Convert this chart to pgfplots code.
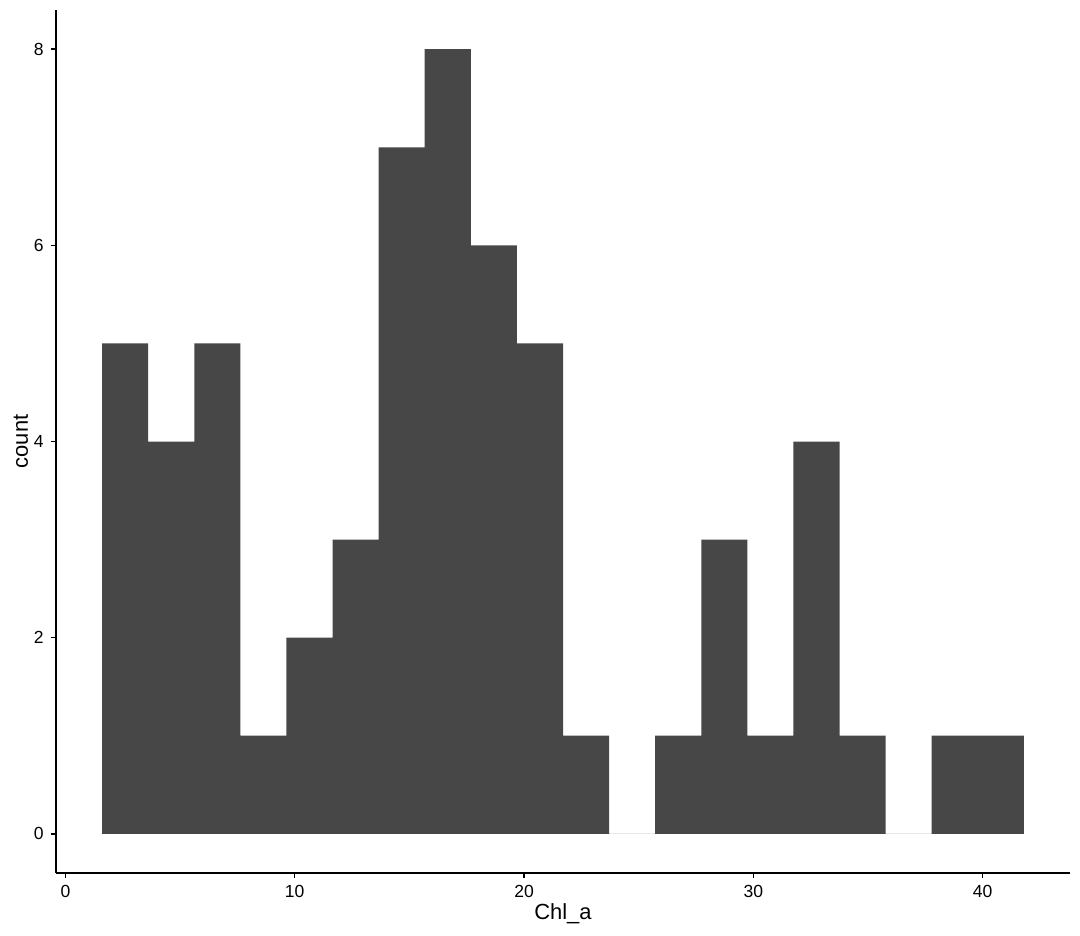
\documentclass[border=0pt]{standalone}
\usepackage{pgfplots}
\pgfplotsset{compat=1.18}
\usepackage{fontspec}
\setmainfont{Liberation Sans}
\definecolor{barfill}{HTML}{474747}
\begin{document}
\begin{tikzpicture}
\useasboundingbox (0,0) rectangle (540bp,468bp);
\begin{axis}[
  at={(28bp,31.5bp)}, anchor=south west,
  scale only axis, width=507bp, height=431.5bp,
  xmin=-0.41, xmax=43.81, ymin=-0.4, ymax=8.4,
  axis x line*=bottom, axis y line*=left,
  axis line style={line width=0.75bp, black},
  xtick={0,10,20,30,40}, ytick={0,2,4,6,8},
  tick align=outside, major tick length=2.7bp,
  tick style={line width=0.75bp, black},
  ticklabel style={font=\fontsize{8.8}{10}\selectfont, black},
  /pgf/number format/assume math mode=true,
  xlabel={Chl\_a}, ylabel={count},
  label style={font=\fontsize{11}{13}\selectfont},
  xlabel style={yshift=4bp},
  ylabel style={yshift=-4bp},
]
\addplot[ybar interval, fill=barfill, draw=none] coordinates {
(1.60,5) (3.61,4) (5.62,5) (7.63,1) (9.64,2) (11.65,3) (13.66,7) (15.67,8)
(17.68,6) (19.69,5) (21.70,1) (23.71,0) (25.72,1) (27.73,3) (29.74,1)
(31.75,4) (33.76,1) (35.77,0) (37.78,1) (39.79,1) (41.80,1)
};
\end{axis}
\end{tikzpicture}
\end{document}
